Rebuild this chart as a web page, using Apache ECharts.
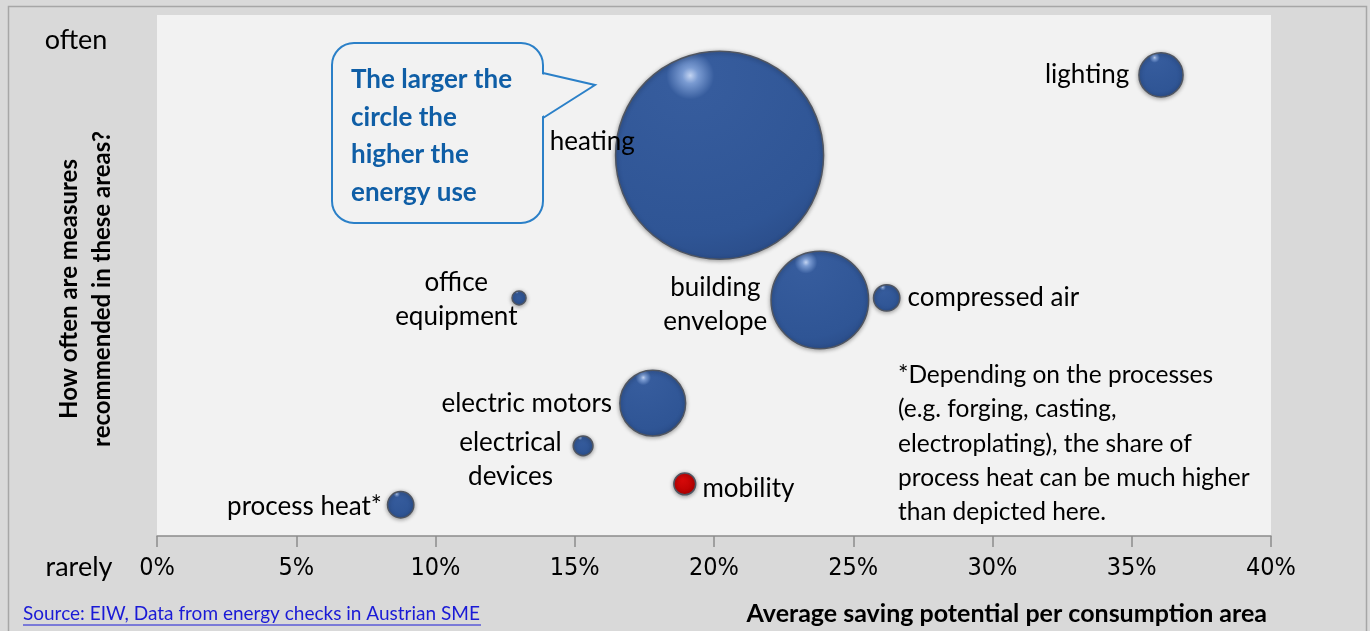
<!DOCTYPE html>
<html>
<head>
<meta charset="utf-8">
<script src="https://cdn.jsdelivr.net/npm/echarts@6/dist/echarts.min.js"></script>
<style>
  html, body { margin: 0; padding: 0; background: #d9d9d9; }
  #holder { width: 1370px; height: 631px; }
</style>
</head>
<body>
<div id="holder"></div>
<script>
// consumption areas, saving potential (x), how often recommended (y, 0 = rarely .. 100 = often), energy use (bubble area)
var areas = ['heating', 'lighting', 'building envelope', 'compressed air', 'office equipment',
  'electric motors', 'electrical devices', 'mobility', 'process heat*']
var savingPotential = [0.202, 0.3605, 0.238, 0.262, 0.130, 0.178, 0.153, 0.1895, 0.0875]
var frequency = [73.1, 88.5, 45.3, 45.7, 45.7, 25.5, 17.3, 10.0, 6.0]
var energyUse = [100, 4.5, 22, 1.6, 0.45, 10, 0.9, 1.1, 1.6]
var xTicks = [0, 0.05, 0.1, 0.15, 0.2, 0.25, 0.3, 0.35, 0.4]

var FONT = 'Lato, "Open Sans", sans-serif'

// label placement per area
var labelOpts = {
  'heating': { position: 'left', distance: -20, offset: [0, -14] },
  'lighting': { position: 'left', distance: 9 },
  'building envelope': { position: 'left', distance: 55, align: 'center', offset: [0, 5], text: 'building\nenvelope' },
  'compressed air': { position: 'right', distance: 7 },
  'office equipment': { position: 'left', distance: 55, align: 'center', offset: [0, 2], text: 'office\nequipment' },
  'electric motors': { position: 'left', distance: 7 },
  'electrical devices': { position: 'left', distance: 62, align: 'center', offset: [0, 14], text: 'electrical\ndevices' },
  'mobility': { position: 'right', distance: 6, offset: [0, 5] },
  'process heat*': { position: 'left', distance: 5, offset: [0, 2] }
}

var blueBall = {
  type: 'radial', x: 0.36, y: 0.12, r: 0.95,
  colorStops: [
    { offset: 0, color: '#c3d4f2' },
    { offset: 0.04, color: '#7a9bd2' },
    { offset: 0.12, color: '#365c9d' },
    { offset: 0.8, color: '#2f5595' },
    { offset: 1, color: '#2a4c88' }
  ]
}
var redBall = {
  type: 'radial', x: 0.4, y: 0.3, r: 0.7,
  colorStops: [
    { offset: 0, color: '#d80a0a' },
    { offset: 1, color: '#b50000' }
  ]
}

var points = areas.map((name, i) => {
  var lo = labelOpts[name] || {}
  return {
    name: name,
    value: [savingPotential[i], frequency[i], energyUse[i]],
    itemStyle: { color: name === 'mobility' ? redBall : blueBall },
    label: {
      show: true,
      color: '#000',
      position: lo.position,
      distance: lo.distance,
      offset: lo.offset || [0, 0],
      align: lo.align,
      formatter: lo.text || name
    }
  }
})

var myChart = echarts.init(document.getElementById('holder'))

var option = {
  backgroundColor: '#d9d9d9',
  animation: false,
  grid: {
    left: 157, right: 99, top: 15, bottom: 95,
    show: true, backgroundColor: '#f2f2f2', borderWidth: 0
  },
  xAxis: {
    type: 'value',
    min: xTicks[0],
    max: xTicks[xTicks.length - 1],
    interval: 0.05,
    axisLine: { show: true, lineStyle: { color: '#8c8c8c', width: 1.5 } },
    axisTick: { show: true, length: 11, lineStyle: { color: '#8c8c8c', width: 1.5 } },
    splitLine: { show: false },
    axisLabel: {
      margin: 20,
      color: '#000',
      fontSize: 25,
      fontFamily: '"Liberation Sans Narrow", "DejaVu Sans Condensed", sans-serif',
      formatter: v => Math.round(v * 100) + '%'
    }
  },
  yAxis: {
    type: 'value', min: 0, max: 100,
    axisLine: { show: false }, axisTick: { show: false },
    axisLabel: { show: false }, splitLine: { show: false }
  },
  series: [{
    type: 'scatter',
    data: points,
    symbolSize: val => Math.sqrt(val[2]) * 20.8,
    itemStyle: {
      opacity: 1,
      borderColor: '#4f5561',
      borderWidth: 1.5,
      shadowBlur: 4,
      shadowColor: 'rgba(0,0,0,0.35)',
      shadowOffsetY: 1
    },
    label: {
      color: '#000',
      fontSize: 26,
      lineHeight: 34,
      fontFamily: FONT
    },
    emphasis: { disabled: true }
  }],
  graphic: [
    // outer frame
    { type: 'rect', shape: { x: 8.5, y: 6.5, width: 1358, height: 640 }, style: { fill: 'none', stroke: '#a6a6a6', lineWidth: 1.5 }, silent: true },
    // speech bubble
    { type: 'rect', silent: true, shape: { x: 332, y: 43, width: 211, height: 180, r: 22 }, style: { fill: '#f2f2f2', stroke: '#2b80c8', lineWidth: 2 } },
    { type: 'polygon', silent: true, shape: { points: [[541, 74], [595, 85], [541, 117]] }, style: { fill: '#f2f2f2' } },
    { type: 'polyline', silent: true, shape: { points: [[543, 73], [595, 85], [543, 118]] }, style: { fill: null, stroke: '#2b80c8', lineWidth: 2 } },
    {
      type: 'text', left: 351, top: 61, silent: true,
      style: {
        text: 'The larger the\ncircle the\nhigher the\nenergy use',
        fill: '#0f5ea6', font: 'bold 26px ' + FONT, lineHeight: 37.5
      }
    },
    // footnote
    {
      type: 'text', left: 898, top: 358, silent: true,
      style: {
        text: '*Depending on the processes\n(e.g. forging, casting,\nelectroplating), the share of\nprocess heat can be much higher\nthan depicted here.',
        fill: '#000', font: '24.5px ' + FONT, lineHeight: 34.3
      }
    },
    // y axis words
    { type: 'text', x: 76, y: 40, silent: true, style: { text: 'often', fill: '#000', font: '27px ' + FONT, align: 'center', verticalAlign: 'middle' } },
    { type: 'text', x: 79, y: 567, silent: true, style: { text: 'rarely', fill: '#000', font: '27px ' + FONT, align: 'center', verticalAlign: 'middle' } },
    {
      type: 'text', x: 86, y: 289, rotation: Math.PI / 2, silent: true,
      style: {
        text: 'How often are measures\nrecommended in these areas?',
        fill: '#000', font: 'bold 24px ' + FONT, align: 'center', verticalAlign: 'middle', lineHeight: 33
      }
    },
    // x axis title
    {
      type: 'text', x: 1267, y: 614, silent: true,
      style: { text: 'Average saving potential per consumption area', fill: '#000', font: 'bold 25px ' + FONT, align: 'right', verticalAlign: 'middle' }
    },
    // source
    {
      type: 'text', x: 23, y: 614, silent: true,
      style: { text: 'Source: EIW, Data from energy checks in Austrian SME', fill: '#1a1ad6', font: '19px ' + FONT, align: 'left', verticalAlign: 'middle' }
    },
    { type: 'line', silent: true, shape: { x1: 23, y1: 625, x2: 481, y2: 625 }, style: { stroke: '#1a1ad6', lineWidth: 1 } }
  ]
}

myChart.setOption(option)
</script>
</body>
</html>
